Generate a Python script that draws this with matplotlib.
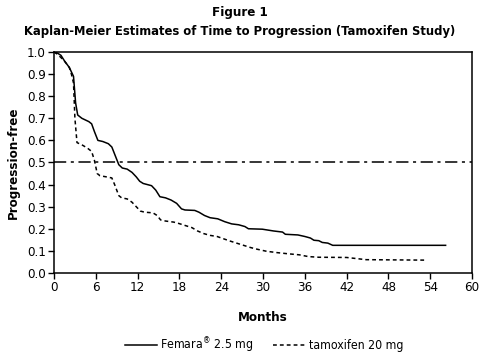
import matplotlib
matplotlib.use("Agg")
import matplotlib.pyplot as plt

plt.rcParams['font.family'] = ['DejaVu Sans']
plt.rcParams['font.stretch'] = 'condensed'

# Kaplan-Meier curves
femara_months = [0, 0.5, 1.0, 1.5, 2.2, 2.8, 3.1, 3.4, 4.0, 5.0, 5.4, 5.8, 6.3, 7.0, 7.8, 8.3,
                 8.8, 9.3, 9.8, 10.5, 11.2, 11.8, 12.3, 12.8, 14.0, 14.6, 15.2, 16.0, 16.8,
                 17.6, 18.3, 18.8, 20.2, 20.8, 21.6, 22.4, 23.5, 24.5, 25.5, 26.5, 27.4, 27.9,
                 29.9, 30.5, 31.5, 32.8, 33.2, 35.0, 36.0, 36.8, 37.3, 38.0, 38.5, 39.3, 40.0, 56.2]
femara_surv = [1.0, 0.995, 0.985, 0.96, 0.93, 0.89, 0.77, 0.715, 0.70, 0.685, 0.675, 0.64, 0.60,
               0.595, 0.585, 0.57, 0.53, 0.49, 0.475, 0.47, 0.455, 0.435, 0.415, 0.405, 0.395,
               0.375, 0.345, 0.34, 0.33, 0.315, 0.29, 0.285, 0.283, 0.275, 0.26, 0.25, 0.245,
               0.232, 0.222, 0.218, 0.21, 0.20, 0.198, 0.195, 0.19, 0.185, 0.175, 0.172, 0.165,
               0.158, 0.148, 0.146, 0.138, 0.135, 0.125, 0.125]

tamox_months = [0, 0.5, 1.0, 1.6, 2.2, 2.5, 2.8, 3.0, 3.3, 4.0, 4.8, 5.4, 5.8, 6.2, 6.6, 7.5,
                8.3, 8.7, 9.3, 9.7, 10.5, 11.2, 11.8, 12.4, 13.0, 14.2, 14.8, 15.3, 16.0, 17.2,
                17.8, 18.8, 19.8, 20.6, 21.5, 22.4, 23.4, 24.3, 25.2, 26.2, 27.2, 28.2, 29.2,
                30.5, 32.0, 33.5, 35.2, 36.5, 38.0, 42.0, 44.8, 53.2]
tamox_surv = [1.0, 0.99, 0.975, 0.955, 0.93, 0.90, 0.86, 0.70, 0.59, 0.58, 0.565, 0.55, 0.51,
              0.45, 0.44, 0.435, 0.43, 0.40, 0.35, 0.34, 0.335, 0.32, 0.30, 0.28, 0.275, 0.272,
              0.26, 0.24, 0.235, 0.23, 0.225, 0.215, 0.205, 0.19, 0.178, 0.17, 0.165, 0.155,
              0.145, 0.135, 0.125, 0.115, 0.107, 0.098, 0.092, 0.087, 0.082, 0.074, 0.071,
              0.07, 0.06, 0.058]

x_ticks = list(range(0, 61, 6))
y_ticks = [i / 10 for i in range(11)]

fig = plt.figure(figsize=(4.8, 3.54), dpi=100)
ax = fig.add_axes([0.1125, 0.229, 0.871, 0.624])

ax.plot(femara_months, femara_surv, color='black', lw=1.1, label='Femara$^{®}$ 2.5 mg')
ax.plot(tamox_months, tamox_surv, color='black', lw=1.1, linestyle=(0, (2.5, 2)),
        label='tamoxifen 20 mg')
ax.axhline(0.5, color='black', lw=1.1, linestyle=(0, (8, 3, 2, 3)))

ax.set_xlim(0, 60)
ax.set_ylim(0, 1.0)
ax.set_xticks(x_ticks)
ax.set_yticks(y_ticks)
ax.set_yticklabels([f'{v:.1f}' for v in y_ticks])
ax.tick_params(direction='out', length=4, width=1, labelsize=9.5, pad=2)
for s in ax.spines.values():
    s.set_linewidth(1.1)

ax.set_xlabel('Months', fontsize=9.5, fontweight='bold', labelpad=12)
ax.set_ylabel('Progression-free', fontsize=9.5, fontweight='bold', labelpad=5)

fig.text(0.5, 0.966, 'Figure 1', ha='center', va='center', fontsize=9.5, fontweight='bold')
fig.text(0.5, 0.912, 'Kaplan-Meier Estimates of Time to Progression (Tamoxifen Study)',
         ha='center', va='center', fontsize=9.3, fontweight='bold')

fig.legend(loc='center', bbox_to_anchor=(0.55, 0.025), ncol=2, frameon=False,
           fontsize=8.8, handlelength=2.6, columnspacing=1.6, handletextpad=0.3)

fig.savefig('out.png', dpi=100)
